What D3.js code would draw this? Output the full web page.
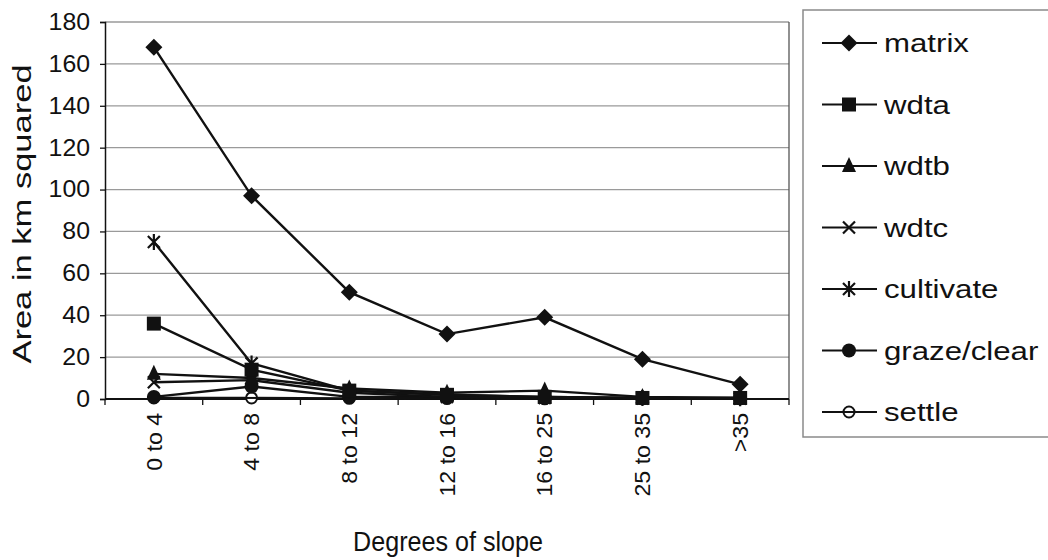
<!DOCTYPE html>
<html>
<head>
<meta charset="utf-8">
<script src="https://cdn.jsdelivr.net/npm/d3@7"></script>
<style>
body { margin: 0; background: #fff; }
svg { font-family: "Liberation Sans", Arial, sans-serif; }
</style>
</head>
<body>
<svg id="chart" width="1048" height="560"></svg>
<script>
// slope classes
var categories = ["0 to 4", "4 to 8", "8 to 12", "12 to 16", "16 to 25", "25 to 35", ">35"];
var yTicks = [0, 20, 40, 60, 80, 100, 120, 140, 160, 180];

var matrix = [168, 97, 51, 31, 39, 19, 7];
var wdta = [36, 14, 4, 2, 1, 0.5, 0.5];
var wdtb = [12, 10, 5, 3, 4, 1, 0.5];
var wdtc = [8, 9, 3, 1, 0.5, 0.3, 0.2];
var cultivate = [75, 17, 4, 2, 1, 0.5, 0.3];
var graze = [1, 6, 1, 1, 0.5, 0.5, 0.5];
var settle = [0.5, 0.5, 0.3, 0.2, 0.1, 0.1, 0.1];

var seriesNames = ["matrix", "wdta", "wdtb", "wdtc", "cultivate", "graze/clear", "settle"];
var seriesMarkers = ["diamond", "square", "triangle", "x", "star", "dot", "ring"];
var seriesValues = [matrix, wdta, wdtb, wdtc, cultivate, graze, settle];

var svg = d3.select("#chart");
var plotLeft = 105, plotRight = 789, plotTop = 22, plotBottom = 399;

var x = d3.scaleBand().domain(categories).range([plotLeft, plotRight]);
var y = d3.scaleLinear().domain([0, 180]).range([plotBottom, plotTop]);

// the scanned original has odd letter widths, so stretch text to match
function stretch(sel, k) {
    sel.each(function() {
        var w = this.getComputedTextLength();
        d3.select(this).attr("textLength", w * k).attr("lengthAdjust", "spacingAndGlyphs");
    });
}

// gridlines
svg.append("g").selectAll("line")
    .data(yTicks.slice(1))
    .enter().append("line")
    .attr("x1", plotLeft).attr("x2", plotRight)
    .attr("y1", function(d) { return y(d); })
    .attr("y2", function(d) { return y(d); })
    .attr("stroke", "#9a9a9a").attr("stroke-width", 1.3);

// right border of plot
svg.append("line")
    .attr("x1", plotRight).attr("x2", plotRight).attr("y1", plotTop).attr("y2", plotBottom)
    .attr("stroke", "#555").attr("stroke-width", 1.3);

// y axis
var yAxis = svg.append("g")
    .attr("transform", "translate(" + plotLeft + ",0)")
    .call(d3.axisLeft(y).tickValues(yTicks).tickSize(5).tickPadding(10));
yAxis.select(".domain").attr("stroke", "#111").attr("stroke-width", 1.5);
yAxis.selectAll(".tick line").attr("stroke", "#111").attr("stroke-width", 1.3);
yAxis.selectAll("text").attr("font-size", 23).attr("fill", "#111")
    .attr("font-family", "Liberation Sans, Arial, sans-serif")
    .call(stretch, 1.08);

// x axis
var xAxis = svg.append("g")
    .attr("transform", "translate(0," + plotBottom + ")")
    .call(d3.axisBottom(x).tickSize(0).tickPadding(0));
xAxis.select(".domain").remove();
xAxis.selectAll("text")
    .attr("font-size", 22).attr("fill", "#111")
    .attr("font-family", "Liberation Sans, Arial, sans-serif")
    .attr("transform", "rotate(-90)")
    .attr("text-anchor", "end")
    .attr("x", -14).attr("y", 0).attr("dy", "0.35em")
    .call(stretch, 1.05);
svg.append("line")
    .attr("x1", plotLeft).attr("x2", plotRight).attr("y1", plotBottom).attr("y2", plotBottom)
    .attr("stroke", "#111").attr("stroke-width", 2);
svg.append("g").selectAll("line")
    .data(d3.range(categories.length + 1))
    .enter().append("line")
    .attr("x1", function(i) { return plotLeft + i * x.step(); })
    .attr("x2", function(i) { return plotLeft + i * x.step(); })
    .attr("y1", plotBottom).attr("y2", plotBottom + 6)
    .attr("stroke", "#111").attr("stroke-width", 1.3);

// axis titles
svg.append("text")
    .attr("transform", "translate(31,214) rotate(-90)")
    .attr("text-anchor", "middle")
    .attr("font-size", 25).attr("fill", "#111")
    .text("Area in km squared")
    .call(stretch, 1.38);
svg.append("text")
    .attr("x", 448).attr("y", 551)
    .attr("text-anchor", "middle")
    .attr("font-size", 27).attr("fill", "#111")
    .text("Degrees of slope")
    .call(stretch, 0.93);

function drawMarker(g, type) {
    if (type == "diamond") {
        g.append("path").attr("d", "M0,-8.5L8.5,0L0,8.5L-8.5,0Z").attr("fill", "#111");
    } else if (type == "square") {
        g.append("rect").attr("x", -7).attr("y", -7).attr("width", 14).attr("height", 14).attr("fill", "#111");
    } else if (type == "triangle") {
        g.append("path").attr("d", "M0,-9L7,6L-7,6Z").attr("fill", "#111");
    } else if (type == "x") {
        g.append("path").attr("d", "M-6,-6L6,6M-6,6L6,-6").attr("stroke", "#111").attr("stroke-width", 2.2);
    } else if (type == "star") {
        g.append("path").attr("d", "M-6,-6L6,6M-6,6L6,-6M0,-8L0,8").attr("stroke", "#111").attr("stroke-width", 2.2);
    } else if (type == "dot") {
        g.append("circle").attr("r", 7).attr("fill", "#111");
    } else if (type == "ring") {
        g.append("circle").attr("r", 5.5).attr("fill", "#fff").attr("stroke", "#111").attr("stroke-width", 2);
        g.append("line").attr("x1", -5).attr("x2", 5).attr("stroke", "#111").attr("stroke-width", 2);
    }
}

var line = d3.line()
    .x(function(d, i) { return x(categories[i]) + x.bandwidth() / 2; })
    .y(function(d) { return y(d); });

// draw small series first so matrix sits on top
for (var s = seriesValues.length - 1; s >= 0; s--) {
    svg.append("path")
        .datum(seriesValues[s])
        .attr("d", line)
        .attr("fill", "none")
        .attr("stroke", "#111")
        .attr("stroke-width", 2.4);
    var pts = svg.append("g").selectAll("g")
        .data(seriesValues[s])
        .enter().append("g")
        .attr("transform", function(d, i) {
            return "translate(" + (x(categories[i]) + x.bandwidth() / 2) + "," + y(d) + ")";
        });
    var mk = seriesMarkers[s];
    pts.each(function() { drawMarker(d3.select(this), mk); });
}

// legend
var legend = svg.append("g");
legend.append("rect")
    .attr("x", 803).attr("y", 10).attr("width", 260).attr("height", 427)
    .attr("fill", "#fff").attr("stroke", "#8a8a8a").attr("stroke-width", 1.5);
var item = legend.selectAll("g.item")
    .data(seriesNames)
    .enter().append("g").attr("class", "item")
    .attr("transform", function(d, i) { return "translate(0," + (43 + i * 61.5) + ")"; });
item.append("line")
    .attr("x1", 822).attr("x2", 877)
    .attr("stroke", "#111").attr("stroke-width", 2);
item.each(function(d, i) {
    var g = d3.select(this).append("g").attr("transform", "translate(849,0)");
    drawMarker(g, seriesMarkers[i]);
});
item.append("text")
    .attr("x", 884).attr("dy", "0.35em")
    .attr("font-size", 26).attr("fill", "#111")
    .text(function(d) { return d; })
    .call(stretch, 1.2);
</script>
</body>
</html>
